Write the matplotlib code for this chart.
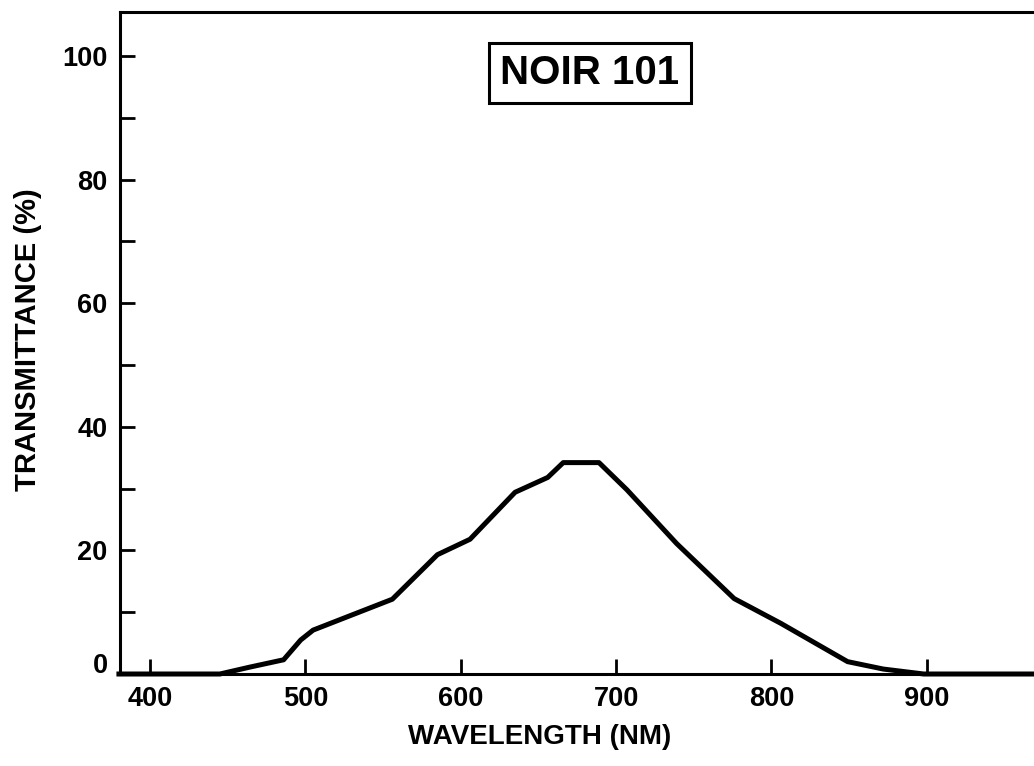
import matplotlib
matplotlib.use("Agg")
import matplotlib.pyplot as plt
import matplotlib.transforms as mtransforms

wavelength = [380, 445, 464, 486, 497, 505, 556, 585, 606, 635, 656, 666, 689, 707, 739, 776, 806, 849, 872, 898, 969]
transmittance = [0, 0, 1.1, 2.3, 5.5, 7.1, 12.1, 19.3, 21.8, 29.4, 31.8, 34.2, 34.2, 29.8, 21.1, 12.2, 8.2, 2.0, 0.8, 0, 0]
x_ticks = [400, 500, 600, 700, 800, 900]
y_ticks = [0, 10, 20, 30, 40, 50, 60, 70, 80, 90, 100]
y_ticklabels = ["0", "", "20", "", "40", "", "60", "", "80", "", "100"]
title_text = "NOIR 101"
x_label = "WAVELENGTH (NM)"
y_label = "TRANSMITTANCE (%)"

plt.rcParams['font.family'] = ['Liberation Sans', 'DejaVu Sans']
plt.rcParams['font.weight'] = 'bold'

fig = plt.figure(figsize=(10.34, 7.66), dpi=100)
ax = fig.add_axes([120/1034, 92/766, 914/1034, 662/766])

ax.plot(wavelength, transmittance, color='black', lw=3.6, solid_joinstyle='round', clip_on=False)

ax.set_xlim(380.7, 969)
ax.set_ylim(0, 107.1)

ax.spines['right'].set_visible(False)
for s in ['left', 'bottom', 'top']:
    ax.spines[s].set_linewidth(2.2)

ax.set_xticks(x_ticks)
ax.set_xticklabels([str(v) for v in x_ticks])
ax.set_yticks(y_ticks)
ax.set_yticklabels(y_ticklabels)
ax.tick_params(axis='both', direction='in', length=11, width=2.0, labelsize=19.5)
ax.tick_params(axis='x', pad=9)
ax.tick_params(axis='y', pad=9)
for lab in ax.get_xticklabels() + ax.get_yticklabels():
    lab.set_fontweight('bold')

# the "0" label sits slightly above the axis line
zero_lab = ax.get_yticklabels()[0]
zero_lab.set_transform(zero_lab.get_transform() + mtransforms.ScaledTranslation(0, 11/100, fig.dpi_scale_trans))

ax.set_xlabel(x_label, fontsize=20, fontweight='bold')
ax.xaxis.set_label_coords(0.4595, -0.075)
ax.set_ylabel(y_label, fontsize=21, fontweight='bold')
ax.yaxis.set_label_coords(-0.0853, 0.5045)

ax.text(0.514, 0.908, title_text, transform=ax.transAxes, ha='center', va='center',
        fontsize=29, fontweight='bold',
        bbox=dict(boxstyle='square,pad=0.28', facecolor='white', edgecolor='black', linewidth=2.2))

fig.savefig('out.png', dpi=100)
